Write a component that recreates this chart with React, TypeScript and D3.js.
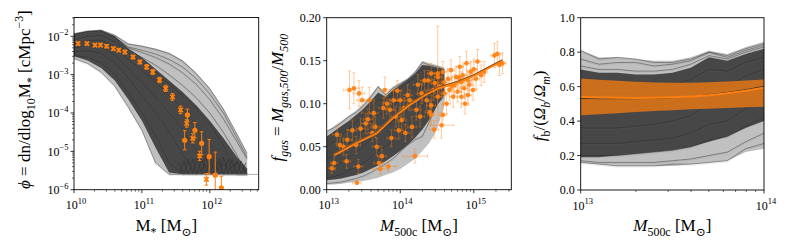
import React from 'react';
import * as d3 from 'd3';

const W = 789, H = 247;
const ORANGE = '#ff7f0e';
const GREY = '#3a3a3a';
const FONT = 'Liberation Serif, DejaVu Serif, serif';

// ---------------- Panel 1: stellar mass function (log10 values) ----------------
const SMF_LOGM = [10.0, 10.2, 10.4, 10.6, 10.8, 11.0, 11.2, 11.4, 11.6, 11.8, 12.0, 12.2, 12.4, 12.55];
const SMF_OUTER_HI = [-1.93, -1.86, -1.83, -1.95, -2.18, -2.24, -2.32, -2.42, -2.62, -2.95, -3.35, -3.88, -4.55, -5.05];
const SMF_OUTER_LO = [-2.58, -2.71, -2.94, -3.3, -3.85, -4.45, -5.3, -5.6, -5.6, -5.6, -5.6, -5.6, -5.6, -5.6];
const SMF_CORE_HI = [-1.94, -1.87, -1.85, -2.0, -2.32, -2.55, -2.85, -3.15, -3.45, -3.8, -4.2, -4.65, -5.15, -5.45];
const SMF_CORE_LO = [-2.52, -2.63, -2.83, -3.15, -3.65, -4.2, -4.9, -5.55, -5.6, -5.6, -5.6, -5.6, -5.6, -5.6];
const SMF_LINES = [
  [-1.93, -1.86, -1.84, -1.98, -2.2, -2.26, -2.34, -2.45, -2.65, -2.97, -3.37, -3.9, -4.55, -5.05],
  [-1.95, -1.88, -1.86, -2.02, -2.28, -2.36, -2.46, -2.6, -2.8, -3.1, -3.5, -4.0, -4.65, -5.15],
  [-1.95, -1.88, -1.86, -2.02, -2.3, -2.42, -2.55, -2.72, -2.95, -3.25, -3.65, -4.15, -4.75, -5.2],
  [-2.0, -1.92, -1.9, -2.05, -2.35, -2.55, -2.75, -3.0, -3.28, -3.6, -4.0, -4.5, -5.1, -5.6],
  [-2.1, -2.0, -1.98, -2.15, -2.45, -2.7, -2.95, -3.25, -3.55, -3.9, -4.3, -4.85, -5.6, -5.6],
  [-2.2, -2.12, -2.1, -2.28, -2.6, -2.9, -3.2, -3.55, -3.9, -4.3, -4.8, -5.6, -5.3, -5.6],
  [-2.3, -2.25, -2.28, -2.5, -2.85, -3.2, -3.6, -4.0, -4.45, -5.0, -5.6, -5.35, -5.6, -5.6],
  [-2.4, -2.38, -2.45, -2.7, -3.1, -3.55, -4.0, -4.5, -5.1, -5.6, -5.3, -5.6, -5.6, -5.6],
  [-2.5, -2.55, -2.7, -3.0, -3.5, -4.0, -4.6, -5.3, -5.6, -5.6, -5.6, -5.6, -5.6, -5.6],
  [-2.58, -2.71, -2.94, -3.3, -3.85, -4.45, -5.3, -5.6, -5.6, -5.6, -5.6, -5.6, -5.6, -5.6],
];
// bin-to-bin bounces of the curves on the floor
const SMF_SAW_LOGM = [11.55, 11.62, 11.68, 11.75, 11.81, 11.88, 11.94, 12.01, 12.07, 12.14, 12.2, 12.27, 12.33, 12.4, 12.46, 12.53];
const SMF_SAW_A = [-5.6, -5.25, -5.6, -5.2, -5.6, -5.2, -5.6, -5.15, -5.6, -5.2, -5.6, -5.2, -5.6, -5.25, -5.6, -5.3];
const SMF_SAW_B = [-5.3, -5.6, -5.2, -5.6, -5.15, -5.6, -5.1, -5.6, -5.15, -5.6, -5.15, -5.6, -5.2, -5.6, -5.25, -5.6];
const SMF_FLOOR_LOGM = [11.4, 12.72];
const SMF_FLOOR = -5.6;
// observed points: [logM, logPhi, errLogPhi]
const SMF_CROSSES = [
  [10.06, -2.19, 0.04], [10.19, -2.19, 0.04], [10.31, -2.23, 0.04], [10.39, -2.23, 0.04],
  [10.48, -2.26, 0.04], [10.58, -2.32, 0.04], [10.66, -2.36, 0.04], [10.75, -2.41, 0.05],
  [10.87, -2.54, 0.05], [10.97, -2.67, 0.05], [11.07, -2.80, 0.06], [11.16, -2.93, 0.06],
  [11.26, -3.14, 0.07], [11.35, -3.36, 0.08], [11.45, -3.58, 0.09], [11.57, -3.92, 0.1],
  [11.66, -4.27, 0.1], [11.75, -4.66, 0.12], [11.85, -5.12, 0.12], [11.95, -5.73, 0.15],
];
const SMF_CIRCLES = [
  [11.63, -4.71, 0.25], [11.67, -4.05, 0.15], [11.78, -4.45, 0.2], [11.88, -4.79, 0.3],
  [11.99, -5.14, 0.45], [12.08, -5.62, 0.6], [12.17, -5.95, 0.3],
];

// ---------------- Panel 2: gas fraction ----------------
const FG_LOGM = [13.0, 13.1, 13.2, 13.3, 13.4, 13.5, 13.6, 13.7, 13.8, 13.9, 14.0, 14.1, 14.2, 14.3, 14.4, 14.5, 14.6];
const FG_OUTER_HI = [0.068, 0.074, 0.08, 0.086, 0.092, 0.1, 0.11, 0.121, 0.112, 0.12, 0.125, 0.13, 0.138, 0.15, 0.147, 0.145, 0.142];
const FG_OUTER_LO = [0.006, 0.006, 0.007, 0.008, 0.009, 0.01, 0.012, 0.014, 0.017, 0.02, 0.024, 0.03, 0.036, 0.045, 0.055, 0.07, 0.098];
const FG_CORE_HI = [0.062, 0.068, 0.074, 0.08, 0.087, 0.094, 0.103, 0.113, 0.108, 0.116, 0.122, 0.128, 0.135, 0.145, 0.144, 0.142, 0.14];
const FG_CORE_LO = [0.011, 0.012, 0.013, 0.015, 0.017, 0.02, 0.024, 0.028, 0.033, 0.039, 0.045, 0.052, 0.06, 0.07, 0.082, 0.098, 0.11];
const FG_LINES = [
  [0.068, 0.072, 0.078, 0.085, 0.09, 0.098, 0.108, 0.12, 0.11, 0.118, 0.123, 0.128, 0.136, 0.148, 0.145, 0.143, 0.14],
  [0.05, 0.056, 0.063, 0.07, 0.078, 0.086, 0.095, 0.104, 0.104, 0.11, 0.117, 0.124, 0.131, 0.14, 0.14, 0.139, 0.137],
  [0.035, 0.04, 0.046, 0.053, 0.06, 0.068, 0.077, 0.087, 0.09, 0.097, 0.104, 0.112, 0.12, 0.13, 0.133, 0.133, 0.132],
  [0.022, 0.026, 0.031, 0.037, 0.043, 0.05, 0.058, 0.067, 0.072, 0.08, 0.088, 0.097, 0.106, 0.117, 0.124, 0.127, 0.128],
  [0.013, 0.015, 0.018, 0.022, 0.026, 0.031, 0.037, 0.044, 0.05, 0.057, 0.065, 0.074, 0.084, 0.096, 0.108, 0.116, 0.12],
  [0.007, 0.008, 0.009, 0.011, 0.013, 0.016, 0.02, 0.025, 0.03, 0.036, 0.044, 0.052, 0.058, 0.062, 0.08, 0.1, 0.108],
];
const FG_MEAN_LOGM = [13.1, 13.39, 13.68, 13.89, 14.11, 14.33, 14.51, 14.78, 15.01, 15.23, 15.39];
const FG_MEAN = [0.0405, 0.054, 0.066, 0.083, 0.098, 0.11, 0.118, 0.125, 0.133, 0.143, 0.15];
// observed clusters: [logM, fgas, xErrDex, yErr]
const FG_OBS = [
  [13.07, 0.025, 0.05, 0.006], [13.1, 0.031, 0.05, 0.008], [13.14, 0.064, 0.06, 0.01], [13.18, 0.052, 0.05, 0.01],
  [13.23, 0.05, 0.06, 0.01], [13.27, 0.033, 0.05, 0.008], [13.28, 0.058, 0.06, 0.012], [13.31, 0.116, 0.08, 0.022],
  [13.35, 0.069, 0.06, 0.012], [13.37, 0.118, 0.07, 0.018], [13.4, 0.052, 0.06, 0.01], [13.41, 0.008, 0.06, 0.002],
  [13.43, 0.027, 0.06, 0.008], [13.44, 0.112, 0.08, 0.015], [13.46, 0.071, 0.06, 0.012], [13.48, 0.104, 0.07, 0.015],
  [13.53, 0.077, 0.06, 0.012], [13.56, 0.082, 0.06, 0.012], [13.58, 0.104, 0.07, 0.015], [13.62, 0.066, 0.06, 0.01],
  [13.64, 0.089, 0.06, 0.012], [13.66, 0.073, 0.06, 0.012], [13.68, 0.05, 0.06, 0.01], [13.71, 0.031, 0.07, 0.008],
  [13.73, 0.024, 0.1, 0.006], [13.75, 0.039, 0.06, 0.008], [13.77, 0.095, 0.06, 0.012], [13.79, 0.116, 0.07, 0.015],
  [13.82, 0.1, 0.06, 0.012], [13.84, 0.027, 0.1, 0.006], [13.86, 0.093, 0.06, 0.012], [13.88, 0.06, 0.06, 0.01],
  [13.91, 0.104, 0.06, 0.012], [13.94, 0.085, 0.06, 0.012], [13.96, 0.115, 0.06, 0.012], [13.98, 0.069, 0.06, 0.01],
  [14.0, 0.104, 0.06, 0.012], [14.02, 0.081, 0.06, 0.012], [14.05, 0.095, 0.06, 0.012], [14.07, 0.066, 0.06, 0.01],
  [14.1, 0.11, 0.06, 0.012], [14.13, 0.104, 0.06, 0.012], [14.16, 0.073, 0.06, 0.012], [14.2, 0.039, 0.17, 0.008],
  [14.22, 0.093, 0.06, 0.012], [14.24, 0.122, 0.06, 0.012], [14.27, 0.085, 0.06, 0.012], [14.29, 0.112, 0.06, 0.012],
  [14.33, 0.127, 0.06, 0.012], [14.36, 0.104, 0.06, 0.012], [14.4, 0.09, 0.06, 0.012], [14.42, 0.098, 0.06, 0.012],
  [14.46, 0.07, 0.06, 0.01], [14.51, 0.135, 0.05, 0.055], [14.56, 0.075, 0.16, 0.015],
  [14.38, 0.127, 0.05, 0.012], [14.42, 0.135, 0.05, 0.012], [14.47, 0.124, 0.05, 0.012], [14.51, 0.131, 0.05, 0.012],
  [14.56, 0.12, 0.05, 0.012], [14.58, 0.137, 0.05, 0.012], [14.6, 0.125, 0.05, 0.012], [14.65, 0.129, 0.05, 0.012],
  [14.67, 0.116, 0.05, 0.012], [14.69, 0.139, 0.05, 0.012], [14.74, 0.122, 0.05, 0.012], [14.76, 0.131, 0.05, 0.012],
  [14.78, 0.114, 0.05, 0.012], [14.81, 0.143, 0.05, 0.012], [14.83, 0.125, 0.05, 0.012], [14.85, 0.133, 0.05, 0.012],
  [14.87, 0.118, 0.05, 0.012], [14.9, 0.147, 0.05, 0.014], [14.92, 0.127, 0.05, 0.012], [14.94, 0.122, 0.05, 0.012],
  [14.96, 0.137, 0.05, 0.012], [14.99, 0.116, 0.05, 0.012], [15.03, 0.129, 0.05, 0.012], [15.05, 0.149, 0.05, 0.014],
  [15.1, 0.133, 0.05, 0.012], [15.14, 0.137, 0.05, 0.012], [15.28, 0.156, 0.05, 0.014], [15.32, 0.158, 0.05, 0.014],
  [15.35, 0.145, 0.05, 0.012], [15.39, 0.147, 0.05, 0.012], [14.6, 0.112, 0.05, 0.012], [14.51, 0.108, 0.05, 0.012],
  [14.45, 0.116, 0.05, 0.012], [14.72, 0.108, 0.05, 0.012], [14.83, 0.108, 0.05, 0.012], [14.92, 0.11, 0.05, 0.012],
  [14.42, 0.087, 0.05, 0.012], [14.58, 0.087, 0.05, 0.012], [14.7, 0.12, 0.05, 0.012], [14.88, 0.1, 0.05, 0.012],
  [14.63, 0.1, 0.05, 0.012], [14.8, 0.13, 0.05, 0.012], [15.0, 0.14, 0.05, 0.012], [14.53, 0.12, 0.05, 0.012],
];

// ---------------- Panel 3: baryon fraction ----------------
const FB_LOGM = [13.0, 13.1, 13.2, 13.3, 13.4, 13.5, 13.6, 13.7, 13.8, 13.9, 14.0];
const FB_OUTER_HI = [0.81, 0.77, 0.77, 0.76, 0.75, 0.75, 0.77, 0.81, 0.79, 0.83, 0.86];
const FB_OUTER_LO = [0.16, 0.15, 0.14, 0.14, 0.14, 0.14, 0.15, 0.16, 0.17, 0.22, 0.24];
const FB_CORE_HI = [0.7, 0.68, 0.68, 0.67, 0.67, 0.68, 0.71, 0.77, 0.75, 0.79, 0.82];
const FB_CORE_LO = [0.19, 0.19, 0.2, 0.21, 0.22, 0.23, 0.25, 0.28, 0.31, 0.36, 0.4];
const FB_LINES = [
  [0.81, 0.76, 0.77, 0.76, 0.74, 0.74, 0.76, 0.8, 0.78, 0.82, 0.85],
  [0.76, 0.73, 0.74, 0.74, 0.72, 0.73, 0.75, 0.8, 0.77, 0.81, 0.84],
  [0.72, 0.7, 0.7, 0.69, 0.69, 0.7, 0.73, 0.78, 0.76, 0.8, 0.83],
  [0.6, 0.59, 0.59, 0.59, 0.6, 0.61, 0.64, 0.7, 0.69, 0.74, 0.77],
  [0.48, 0.47, 0.47, 0.48, 0.49, 0.5, 0.53, 0.6, 0.6, 0.66, 0.7],
  [0.36, 0.36, 0.36, 0.37, 0.38, 0.4, 0.43, 0.5, 0.5, 0.57, 0.62],
  [0.27, 0.27, 0.27, 0.28, 0.29, 0.3, 0.33, 0.38, 0.4, 0.47, 0.52],
  [0.2, 0.2, 0.2, 0.21, 0.22, 0.23, 0.25, 0.29, 0.31, 0.37, 0.42],
  [0.17, 0.16, 0.16, 0.16, 0.16, 0.17, 0.18, 0.2, 0.22, 0.28, 0.33],
  [0.16, 0.15, 0.14, 0.14, 0.14, 0.15, 0.15, 0.16, 0.17, 0.24, 0.27],
];
const FB_BAND_HI = [0.647, 0.64, 0.634, 0.628, 0.624, 0.622, 0.622, 0.625, 0.63, 0.636, 0.641];
const FB_BAND_LO = [0.434, 0.44, 0.446, 0.452, 0.458, 0.463, 0.468, 0.472, 0.476, 0.48, 0.483];
const FB_MEAN = [0.54, 0.537, 0.535, 0.534, 0.535, 0.538, 0.543, 0.55, 0.562, 0.576, 0.593];
const FB_MODEL = [0.531, 0.53, 0.53, 0.53, 0.532, 0.536, 0.543, 0.553, 0.566, 0.582, 0.602];

type Seg = { t: string; s?: 'sub' | 'sup'; i?: boolean };

function MText({ segs, size }: { segs: Seg[]; size: number }) {
  let cur = 0;
  return (
    <>
      {segs.map((sg, k) => {
        const target = sg.s === 'sub' ? 0.28 * size : sg.s === 'sup' ? -0.42 * size : 0;
        const dy = target - cur;
        cur = target;
        return (
          <tspan key={k} dy={dy} fontSize={sg.s ? size * 0.7 : size} fontStyle={sg.i ? 'italic' : 'normal'}>
            {sg.t}
          </tspan>
        );
      })}
    </>
  );
}

function Pow10({ exp, x, y, anchor }: { exp: number; x: number; y: number; anchor: string }) {
  const e = exp < 0 ? '\u2212' + Math.abs(exp) : String(exp);
  return (
    <text x={x} y={y} textAnchor={anchor} fontSize={12} fontFamily={FONT} fill="#000">
      10<tspan dy={-5.5} fontSize={8.5}>{e}</tspan>
    </text>
  );
}

type Box = { l: number; r: number; t: number; b: number };

function Frame({ box }: { box: Box }) {
  return <rect x={box.l} y={box.t} width={box.r - box.l} height={box.b - box.t} fill="none" stroke="#000" strokeWidth={0.9} />;
}

function LogXTicks({ sx, box }: { sx: any; box: Box }) {
  const ticks = sx.ticks();
  return (
    <g>
      {ticks.map((v: number, k: number) => {
        const lv = Math.log10(v);
        const major = Math.abs(lv - Math.round(lv)) < 1e-9;
        const x = sx(v);
        return (
          <g key={k}>
            <line x1={x} x2={x} y1={box.b} y2={box.b + (major ? 3.5 : 2)} stroke="#000" strokeWidth={major ? 0.8 : 0.6} />
            {major && <Pow10 exp={Math.round(lv)} x={x + 2} y={box.b + 19.5} anchor="middle" />}
          </g>
        );
      })}
    </g>
  );
}

function curve(xs: number[], ys: number[], fx: (v: number) => number, fy: (v: number) => number) {
  return d3.line<number>().x((_, i) => fx(xs[i])).y((d) => fy(d))(ys) || '';
}
function band(xs: number[], lo: number[], hi: number[], fx: (v: number) => number, fy: (v: number) => number) {
  return (
    d3
      .area<number>()
      .x((_, i) => fx(xs[i]))
      .y0((_, i) => fy(lo[i]))
      .y1((_, i) => fy(hi[i]))(xs) || ''
  );
}

function XMarker({ x, y, s }: { x: number; y: number; s: number }) {
  const p = `M${x - s},${y - s}L${x + s},${y + s}M${x - s},${y + s}L${x + s},${y - s}`;
  return <path d={p} stroke={ORANGE} strokeWidth={1.8} />;
}

function Ensemble({ xs, oLo, oHi, cLo, cHi, lines, fx, fy }: any) {
  return (
    <g>
      <path d={band(xs, oLo, oHi, fx, fy)} fill={GREY} opacity={0.32} />
      <path d={band(xs, cLo, cHi, fx, fy)} fill={GREY} opacity={0.9} />
      {lines.map((ln: number[], k: number) => (
        <path key={k} d={curve(xs, ln, fx, fy)} fill="none" stroke="#2a2a2a" strokeWidth={0.6} opacity={0.75} />
      ))}
      {lines.map((ln: number[], k: number) => (
        <path key={'l' + k} d={curve(xs, ln, fx, fy)} fill="none" stroke="#777" strokeWidth={0.4} opacity={0.35} transform="translate(0,1.2)" />
      ))}
    </g>
  );
}

export default function App() {
  const b1: Box = { l: 74, r: 258.7, t: 17.5, b: 189.7 };
  const x1 = d3.scaleLog().domain([1e10, Math.pow(10, 12.72)]).range([b1.l, b1.r]);
  const y1 = d3.scaleLog().domain([1e-6, Math.pow(10, -1.51)]).range([b1.b, b1.t]);
  const fx1 = (v: number) => x1(Math.pow(10, v));
  const fy1 = (v: number) => y1(Math.pow(10, v));

  const b2: Box = { l: 326.7, r: 511.3, t: 17.7, b: 189.7 };
  const x2 = d3.scaleLog().domain([1e13, Math.pow(10, 15.51)]).range([b2.l, b2.r]);
  const y2 = d3.scaleLinear().domain([0, 0.2]).range([b2.b, b2.t]);
  const fx2 = (v: number) => x2(Math.pow(10, v));

  const b3: Box = { l: 580.7, r: 764, t: 17.7, b: 190 };
  const x3 = d3.scaleLog().domain([1e13, 1e14]).range([b3.l, b3.r]);
  const y3 = d3.scaleLinear().domain([0, 1]).range([b3.b, b3.t]);
  const fx3 = (v: number) => x3(Math.pow(10, v));

  const y1Ticks = y1.ticks();
  const labelSize = 17;

  const errBar = (cx: number, y0: number, y1v: number, key: string) => (
    <g key={key} stroke={ORANGE} strokeWidth={1}>
      <line x1={cx} x2={cx} y1={y0} y2={y1v} />
      <line x1={cx - 1.8} x2={cx + 1.8} y1={y0} y2={y0} />
      <line x1={cx - 1.8} x2={cx + 1.8} y1={y1v} y2={y1v} />
    </g>
  );

  return (
    <svg width={W} height={H} style={{ position: 'absolute', left: 0, top: 0, background: '#fff' }} fontFamily={FONT}>
      <defs>
        <clipPath id="c1"><rect x={b1.l} y={b1.t} width={b1.r - b1.l} height={b1.b - b1.t} /></clipPath>
        <clipPath id="c2"><rect x={b2.l} y={b2.t} width={b2.r - b2.l} height={b2.b - b2.t} /></clipPath>
        <clipPath id="c3"><rect x={b3.l} y={b3.t} width={b3.r - b3.l} height={b3.b - b3.t} /></clipPath>
      </defs>
      <rect x={0} y={0} width={W} height={H} fill="#fff" />

      {/* ---------- Panel 1 ---------- */}
      <g clipPath="url(#c1)">
        <Ensemble xs={SMF_LOGM} oLo={SMF_OUTER_LO} oHi={SMF_OUTER_HI} cLo={SMF_CORE_LO} cHi={SMF_CORE_HI} lines={SMF_LINES} fx={fx1} fy={fy1} />
        <path d={curve(SMF_SAW_LOGM, SMF_SAW_A, fx1, fy1)} fill="none" stroke="#333" strokeWidth={0.7} />
        <path d={curve(SMF_SAW_LOGM, SMF_SAW_B, fx1, fy1)} fill="none" stroke="#333" strokeWidth={0.7} />
        <line x1={fx1(SMF_FLOOR_LOGM[0])} x2={fx1(SMF_FLOOR_LOGM[1])} y1={fy1(SMF_FLOOR)} y2={fy1(SMF_FLOOR)} stroke="#999" strokeWidth={0.8} />
        {SMF_CIRCLES.map((p, k) => (
          <g key={'c' + k}>
            {errBar(fx1(p[0]), fy1(p[1] - p[2]), fy1(p[1] + p[2]), 'e')}
            <circle cx={fx1(p[0])} cy={fy1(p[1])} r={2.6} fill={ORANGE} />
          </g>
        ))}
        {SMF_CROSSES.map((p, k) => (
          <g key={'x' + k}>
            {errBar(fx1(p[0]), fy1(p[1] - p[2]), fy1(p[1] + p[2]), 'e')}
            <XMarker x={fx1(p[0])} y={fy1(p[1])} s={2.2} />
          </g>
        ))}
      </g>
      <Frame box={b1} />
      <LogXTicks sx={x1} box={b1} />
      {y1Ticks.map((v: number, k: number) => {
        const lv = Math.log10(v);
        const major = Math.abs(lv - Math.round(lv)) < 1e-9;
        const y = y1(v);
        return (
          <g key={k}>
            <line x1={b1.l} x2={b1.l - (major ? 3.5 : 2)} y1={y} y2={y} stroke="#000" strokeWidth={major ? 0.8 : 0.6} />
            {major && <Pow10 exp={Math.round(lv)} x={b1.l - 5.5} y={y + 4.5} anchor="end" />}
          </g>
        );
      })}
      <text transform={`translate(30,${(b1.t + b1.b) / 2 - 4}) rotate(-90)`} textAnchor="middle" fontSize={labelSize} fill="#000" fontFamily={FONT}>
        <MText size={labelSize} segs={[
          { t: '\u03d5', i: true }, { t: ' = dn/dlog' }, { t: '10', s: 'sub' }, { t: 'M' }, { t: '*', s: 'sub' },
          { t: ' [cMpc' }, { t: '\u22123', s: 'sup' }, { t: ']' },
        ]} />
      </text>
      <text x={(b1.l + b1.r) / 2} y={231} textAnchor="middle" fontSize={labelSize} fill="#000" fontFamily={FONT}>
        <MText size={labelSize} segs={[{ t: 'M' }, { t: '*', s: 'sub' }, { t: ' [M' }, { t: '\u2299', s: 'sub' }, { t: ']' }]} />
      </text>

      {/* ---------- Panel 2 ---------- */}
      <g clipPath="url(#c2)">
        <Ensemble xs={FG_LOGM} oLo={FG_OUTER_LO} oHi={FG_OUTER_HI} cLo={FG_CORE_LO} cHi={FG_CORE_HI} lines={FG_LINES} fx={fx2} fy={y2} />
        {FG_OBS.map((p, k) => {
          const cx = fx2(p[0]);
          const cy = y2(p[1]);
          const xl = fx2(p[0] - p[2]);
          const xr = fx2(p[0] + p[2]);
          const yt = y2(p[1] + p[3]);
          const yb = y2(p[1] - p[3]);
          return (
            <g key={k} stroke={ORANGE} strokeWidth={0.8} opacity={0.5}>
              <line x1={xl} x2={xr} y1={cy} y2={cy} />
              <line x1={cx} x2={cx} y1={yt} y2={yb} />
              <line x1={xl} x2={xl} y1={cy - 1.5} y2={cy + 1.5} />
              <line x1={xr} x2={xr} y1={cy - 1.5} y2={cy + 1.5} />
              <line x1={cx - 1.5} x2={cx + 1.5} y1={yt} y2={yt} />
              <line x1={cx - 1.5} x2={cx + 1.5} y1={yb} y2={yb} />
            </g>
          );
        })}
        {FG_OBS.map((p, k) => (
          <circle key={k} cx={fx2(p[0])} cy={y2(p[1])} r={2.3} fill={ORANGE} opacity={0.9} />
        ))}
        <path d={curve(FG_MEAN_LOGM, FG_MEAN, fx2, y2)} fill="none" stroke={ORANGE} strokeWidth={2.6} />
        <path d={curve(FG_MEAN_LOGM, FG_MEAN.map((v) => v + 0.0012), fx2, y2)} fill="none" stroke="#333" strokeWidth={0.8} opacity={0.8} />
      </g>
      <Frame box={b2} />
      <LogXTicks sx={x2} box={b2} />
      {y2.ticks(4).map((v: number, k: number) => (
        <g key={k}>
          <line x1={b2.l} x2={b2.l - 3.5} y1={y2(v)} y2={y2(v)} stroke="#000" strokeWidth={0.8} />
          <text x={b2.l - 6} y={y2(v) + 4} textAnchor="end" fontSize={12} fill="#000" fontFamily={FONT}>{d3.format('.2f')(v)}</text>
        </g>
      ))}
      <text transform={`translate(283,${(b2.t + b2.b) / 2 - 6}) rotate(-90)`} textAnchor="middle" fontSize={labelSize} fill="#000" fontFamily={FONT}>
        <MText size={labelSize} segs={[
          { t: 'f', i: true }, { t: 'gas', s: 'sub', i: true }, { t: ' = ' }, { t: 'M', i: true }, { t: 'gas,500', s: 'sub', i: true },
          { t: '/' }, { t: 'M', i: true }, { t: '500', s: 'sub', i: true },
        ]} />
      </text>
      <text x={(b2.l + b2.r) / 2} y={231} textAnchor="middle" fontSize={labelSize} fill="#000" fontFamily={FONT}>
        <MText size={labelSize} segs={[{ t: 'M', i: true }, { t: '500c', s: 'sub' }, { t: ' [M' }, { t: '\u2299', s: 'sub' }, { t: ']' }]} />
      </text>

      {/* ---------- Panel 3 ---------- */}
      <g clipPath="url(#c3)">
        <Ensemble xs={FB_LOGM} oLo={FB_OUTER_LO} oHi={FB_OUTER_HI} cLo={FB_CORE_LO} cHi={FB_CORE_HI} lines={FB_LINES} fx={fx3} fy={y3} />
        <path d={band(FB_LOGM, FB_BAND_LO, FB_BAND_HI, fx3, y3)} fill={ORANGE} opacity={0.72} />
        <path d={curve(FB_LOGM, FB_MODEL, fx3, y3)} fill="none" stroke="#333" strokeWidth={1} />
        <path d={curve(FB_LOGM, FB_MEAN, fx3, y3)} fill="none" stroke={ORANGE} strokeWidth={2} />
      </g>
      <Frame box={b3} />
      <LogXTicks sx={x3} box={b3} />
      {y3.ticks(5).map((v: number, k: number) => (
        <g key={k}>
          <line x1={b3.l} x2={b3.l - 3.5} y1={y3(v)} y2={y3(v)} stroke="#000" strokeWidth={0.8} />
          <text x={b3.l - 6} y={y3(v) + 4} textAnchor="end" fontSize={12} fill="#000" fontFamily={FONT}>{d3.format('.1f')(v)}</text>
        </g>
      ))}
      <text transform={`translate(545,${(b3.t + b3.b) / 2 + 2}) rotate(-90)`} textAnchor="middle" fontSize={labelSize} fill="#000" fontFamily={FONT}>
        <MText size={labelSize} segs={[
          { t: 'f', i: true }, { t: 'b', s: 'sub' }, { t: '/(' }, { t: '\u03a9', i: true }, { t: 'b', s: 'sub', i: true },
          { t: '/' }, { t: '\u03a9', i: true }, { t: 'm', s: 'sub', i: true }, { t: ')' },
        ]} />
      </text>
      <text x={(b3.l + b3.r) / 2} y={231} textAnchor="middle" fontSize={labelSize} fill="#000" fontFamily={FONT}>
        <MText size={labelSize} segs={[{ t: 'M', i: true }, { t: '500c', s: 'sub' }, { t: ' [M' }, { t: '\u2299', s: 'sub' }, { t: ']' }]} />
      </text>
    </svg>
  );
}
